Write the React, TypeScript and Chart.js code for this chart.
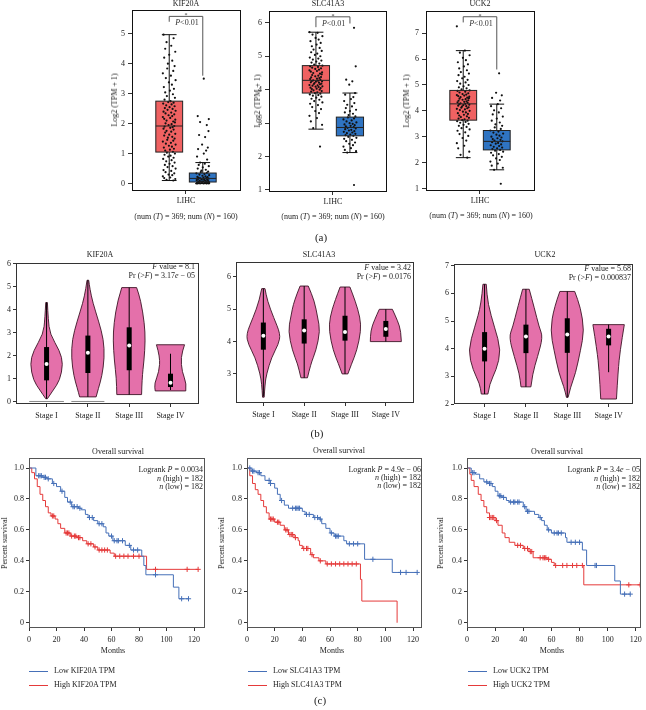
import React, { useEffect, useRef } from "react";
import { Chart, registerables } from "chart.js";

Chart.register(...registerables);

const SERIF = "'Liberation Serif', 'DejaVu Serif', serif";

// ================= (a) expression box plots =================
const boxGenes = ["KIF20A", "SLC41A3", "UCK2"];
const boxTickLabel = "LIHC";
const boxYTicks = [[0, 1, 2, 3, 4, 5], [1, 2, 3, 4, 5, 6], [1, 2, 3, 4, 5, 6, 7]];
const boxYRanges = [[-0.25, 5.8], [0.94, 6.36], [0.9, 7.87]];
const boxXRanges = [[-1.61, 1.64], [-1.88, 1.59], [-1.61, 1.64]];
const tumorPosition = -0.5;
const normalPosition = 0.5;
// [lower whisker, Q1, median, Q3, upper whisker]
const kif20aTumorStats = [0.1, 1.05, 1.92, 2.75, 4.97];
const kif20aNormalStats = [0.0, 0.05, 0.17, 0.35, 0.7];
const slc41a3TumorStats = [2.82, 3.9, 4.28, 4.72, 5.72];
const slc41a3NormalStats = [2.12, 2.62, 2.87, 3.18, 3.9];
const uck2TumorStats = [2.19, 3.64, 4.27, 4.79, 6.33];
const uck2NormalStats = [1.72, 2.49, 2.82, 3.24, 4.26];

const kif20aTumorPoints = [
  0.1, 0.12, 0.15, 0.18, 0.2, 0.24, 0.28, 0.3, 0.34, 0.38, 0.42, 0.45, 0.5, 0.55, 0.58, 0.62, 0.66, 0.7, 0.74, 0.78, 0.82, 0.86, 0.9, 0.93, 0.96, 1.0, 1.03,
  1.06, 1.1, 1.13, 1.16, 1.2, 1.23, 1.26, 1.3, 1.33, 1.36, 1.4, 1.43, 1.46, 1.5, 1.53, 1.56, 1.6, 1.63, 1.66, 1.7, 1.73, 1.76, 1.8, 1.83, 1.86, 1.88, 1.9, 1.92,
  1.95, 1.98, 2.01, 2.04, 2.07, 2.1, 2.13, 2.16, 2.19, 2.22, 2.25, 2.28, 2.31, 2.34, 2.37, 2.4, 2.43, 2.46, 2.49, 2.52, 2.55, 2.58, 2.61, 2.64, 2.67, 2.7, 2.72, 2.75,
  2.8, 2.86, 2.92, 2.98, 3.04, 3.1, 3.16, 3.22, 3.3, 3.38, 3.45, 3.52, 3.6, 3.68, 3.76, 3.84, 3.92, 4.0, 4.1, 4.2, 4.3, 4.4, 4.5, 4.6, 4.72, 4.85, 4.97,
];
const kif20aNormalPoints = [
  0, 0, 0, 0, 0, 0, 0.01, 0.01, 0.02, 0.02, 0.03, 0.03, 0.04, 0.05, 0.05, 0.06, 0.07, 0.08, 0.09, 0.1, 0.11, 0.12, 0.13, 0.14, 0.15, 0.16, 0.17, 0.18, 0.19, 0.2,
  0.21, 0.22, 0.24, 0.26, 0.28, 0.3, 0.32, 0.34, 0.36, 0.38, 0.4, 0.43, 0.46, 0.5, 0.54, 0.58, 0.62, 0.66, 0.7, 0.8, 0.9, 1.0, 1.1, 1.15, 1.2, 1.3, 1.55, 1.62, 1.75,
  1.95, 2.05, 2.15, 2.25, 3.5,
];
const slc41a3TumorPoints = [
  2.3, 2.85, 2.95, 3.05, 3.15, 3.22, 3.3, 3.36, 3.42, 3.48, 3.54, 3.58, 3.62, 3.66, 3.7, 3.73, 3.76, 3.79, 3.82, 3.84, 3.86, 3.88, 3.9,
  3.92, 3.94, 3.96, 3.98, 4.0, 4.02, 4.03, 4.05, 4.06, 4.08, 4.09, 4.1, 4.12, 4.13, 4.14, 4.16, 4.17, 4.18, 4.2, 4.21, 4.22, 4.24, 4.25, 4.26, 4.27, 4.28,
  4.3, 4.32, 4.33, 4.35, 4.37, 4.38, 4.4, 4.42, 4.44, 4.46, 4.48, 4.5, 4.52, 4.54, 4.56, 4.58, 4.6, 4.62, 4.64, 4.66, 4.68, 4.7, 4.72,
  4.75, 4.78, 4.81, 4.84, 4.87, 4.9, 4.93, 4.96, 5.0, 5.04, 5.08, 5.12, 5.16, 5.2, 5.25, 5.3, 5.35, 5.4, 5.45, 5.5, 5.55, 5.6, 5.65, 5.7, 5.72,
];
const slc41a3NormalPoints = [
  1.15, 2.12, 2.16, 2.2, 2.25, 2.3, 2.34, 2.38, 2.42, 2.46, 2.5, 2.53, 2.56, 2.59, 2.62, 2.64, 2.66, 2.68, 2.7, 2.72, 2.74, 2.76, 2.78, 2.8, 2.82, 2.84, 2.86, 2.88,
  2.9, 2.92, 2.94, 2.96, 2.98, 3.0, 3.02, 3.05, 3.08, 3.11, 3.14, 3.17, 3.2, 3.24, 3.28, 3.32, 3.36, 3.4, 3.45, 3.5, 3.55, 3.6, 3.66, 3.72, 3.78, 3.85, 3.9, 4.15,
  4.25, 4.3, 4.7, 5.85,
];
const uck2TumorPoints = [
  2.19, 2.3, 2.42, 2.55, 2.65, 2.75, 2.85, 2.95, 3.03, 3.1, 3.17, 3.23, 3.28, 3.33, 3.38, 3.42, 3.46, 3.5, 3.54, 3.57, 3.6, 3.62, 3.64,
  3.67, 3.7, 3.73, 3.76, 3.79, 3.82, 3.85, 3.88, 3.91, 3.94, 3.97, 4.0, 4.03, 4.06, 4.08, 4.1, 4.12, 4.14, 4.16, 4.18, 4.2, 4.22, 4.24, 4.26, 4.27,
  4.29, 4.31, 4.33, 4.35, 4.37, 4.39, 4.41, 4.43, 4.45, 4.47, 4.49, 4.51, 4.53, 4.55, 4.57, 4.59, 4.61, 4.63, 4.65, 4.68, 4.71, 4.74, 4.77, 4.79,
  4.83, 4.87, 4.91, 4.95, 5.0, 5.05, 5.1, 5.15, 5.2, 5.26, 5.32, 5.38, 5.44, 5.5, 5.57, 5.64, 5.72, 5.8, 5.88, 5.96, 6.05, 6.15, 6.25, 6.33, 7.27,
];
const uck2NormalPoints = [
  1.18, 1.72, 1.8, 1.88, 1.96, 2.04, 2.1, 2.16, 2.22, 2.28, 2.33, 2.38, 2.42, 2.46, 2.49, 2.52, 2.55, 2.58, 2.61, 2.64, 2.67, 2.7, 2.73, 2.76, 2.79, 2.82, 2.85,
  2.88, 2.91, 2.94, 2.97, 3.0, 3.04, 3.08, 3.12, 3.16, 3.2, 3.24, 3.3, 3.36, 3.42, 3.48, 3.55, 3.62, 3.7, 3.78, 3.86, 3.94, 4.02, 4.1, 4.18, 4.26, 4.4, 4.5, 4.6,
  4.7, 5.45,
];
const jitterOffsets = [0.12, -0.08, 0.18, -0.15, 0.03, -0.19, 0.09, -0.02, 0.15, -0.11, 0.06, -0.17, 0.19, -0.05, 0.1, -0.13, 0.01, 0.16, -0.09, 0.07, -0.18, 0.13, -0.03, 0.04, -0.14, 0.17, -0.07, 0.11, -0.12, 0.02, 0.14, -0.16, 0.08, -0.01, 0.19, -0.1, 0.05, -0.19, 0.12, -0.06, 0.16, -0.04, 0.09, -0.15, 0.0, 0.18, -0.12, 0.06, -0.08, 0.13, -0.17, 0.03, 0.1, -0.14, 0.15, -0.02, 0.07, -0.11, 0.17];
const bracketTops = [5.58, 6.18, 7.64];
const bracketLeftEnds = [5.4, 5.87, 7.42];
const bracketRightEnds = [3.6, 5.98, 5.6];
const sampleCounts = ["369", "160"];

// ================= (b) stage violin plots =================
const stageLabels = ["Stage I", "Stage II", "Stage III", "Stage IV"];
const violinYTicks = [[0, 1, 2, 3, 4, 5, 6], [3, 4, 5, 6], [2, 3, 4, 5, 6, 7]];
const violinYRanges = [[-0.11, 6.04], [2.1, 6.47], [2.0, 7.07]];
const violinXRanges = [[-0.74, 3.69], [-0.67, 3.69], [-0.74, 3.59]];
// profile: [value, half width] from bottom to top
const kif20aViolinProfiles = [
  [[0.12, 0.02], [0.49, 0.16], [0.92, 0.32], [1.64, 0.4], [2.2, 0.32], [2.94, 0.08], [3.6, 0.04], [4.31, 0.02]],
  [[0.2, 0.2], [0.6, 0.26], [1.1, 0.34], [1.9, 0.4], [2.7, 0.38], [3.5, 0.26], [4.3, 0.12], [4.9, 0.05], [5.28, 0.02]],
  [[0.3, 0.3], [1.0, 0.31], [1.8, 0.36], [2.65, 0.39], [3.4, 0.37], [4.4, 0.28], [4.96, 0.18]],
  [[0.46, 0.37], [0.78, 0.39], [1.28, 0.28], [1.93, 0.25], [2.47, 0.34]],
];
const slc41a3ViolinProfiles = [
  [[2.28, 0.02], [2.69, 0.04], [3.0, 0.08], [3.51, 0.2], [3.92, 0.37], [4.23, 0.42], [4.75, 0.25], [5.26, 0.1], [5.64, 0.04]],
  [[2.88, 0.08], [3.31, 0.16], [3.72, 0.29], [4.33, 0.39], [4.75, 0.33], [5.26, 0.25], [5.72, 0.1]],
  [[3.0, 0.07], [3.31, 0.16], [3.72, 0.29], [4.33, 0.39], [4.75, 0.37], [5.26, 0.25], [5.69, 0.12]],
  [[4.0, 0.38], [4.33, 0.37], [4.64, 0.29], [5.0, 0.16]],
];
const uck2ViolinProfiles = [
  [[2.36, 0.08], [2.74, 0.12], [3.22, 0.28], [3.94, 0.4], [4.78, 0.24], [5.61, 0.08], [6.33, 0.04]],
  [[2.62, 0.12], [3.1, 0.16], [3.7, 0.28], [4.42, 0.41], [4.78, 0.32], [5.49, 0.2], [6.15, 0.08]],
  [[2.24, 0.02], [2.62, 0.08], [3.1, 0.2], [3.94, 0.32], [4.66, 0.41], [5.49, 0.32], [6.07, 0.18]],
  [[2.18, 0.19], [3.22, 0.23], [3.94, 0.28], [4.87, 0.38]],
];
// [lower, Q1, median, Q3, upper]
const kif20aStageStats = [[0.12, 0.92, 1.63, 2.37, 4.31], [0.2, 1.24, 2.12, 2.87, 5.28], [0.3, 1.36, 2.44, 3.23, 4.96], [0.5, 0.63, 0.82, 1.21, 2.08]];
const slc41a3StageStats = [[2.3, 3.75, 4.18, 4.59, 5.64], [2.88, 3.94, 4.34, 4.69, 5.72], [3.0, 4.03, 4.3, 4.8, 5.69], [4.0, 4.15, 4.39, 4.64, 5.0]];
const uck2StageStats = [[2.36, 3.54, 4.0, 4.6, 6.33], [2.62, 3.84, 4.44, 4.87, 6.15], [2.24, 3.85, 4.51, 5.1, 6.07], [3.15, 4.12, 4.44, 4.72, 4.87]];
const kif20aZeroWidths = [0.42, 0.4, 0, 0];
const fValues = ["8.1", "3.42", "5.68"];
const prMantissas = ["3.17", "0.0176", "0.000837"];
const prExponents = ["05", "", ""];

// ================= (c) Kaplan-Meier curves =================
const kmYTicks = [0, 0.2, 0.4, 0.6, 0.8, 1.0];
const kmXTicks = [0, 20, 40, 60, 80, 100, 120];
const kmXMax = [128, 126.5, 123.5];
const kmYRange = [-0.034, 1.066];
const logrankP = ["0.0034", "4.9e-06", "3.4e-05"];
const groupSizes = ["182", "182"];

const kif20aLowTimes = [0, 5, 10, 13, 17, 20, 23, 26, 28, 31, 36, 38, 41, 43, 47, 50, 54, 56, 58, 61, 70, 74, 82, 83.5, 85, 105, 109, 116];
const kif20aLowSurv = [1, 0.95, 0.94, 0.93, 0.9, 0.88, 0.85, 0.81, 0.78, 0.75, 0.74, 0.73, 0.7, 0.68, 0.66, 0.64, 0.62, 0.58, 0.56, 0.53, 0.5, 0.47, 0.43, 0.37, 0.31, 0.23, 0.155, 0.155];
const kif20aLowCensor = [7, 8, 9, 11, 12, 14, 18, 24, 30, 32, 33, 35, 37, 44, 46, 51, 53, 60, 62, 64, 65, 68, 73, 76, 79, 92, 111, 116];
const kif20aHighTimes = [0, 2, 4, 6, 8, 10, 12, 14, 16, 19, 21, 23, 26, 30, 35, 39, 42, 47, 50, 59, 62, 85.5, 123];
const kif20aHighSurv = [1, 0.97, 0.93, 0.88, 0.83, 0.79, 0.75, 0.71, 0.69, 0.67, 0.64, 0.61, 0.58, 0.56, 0.55, 0.53, 0.51, 0.49, 0.47, 0.45, 0.43, 0.345, 0.345];
const kif20aHighCensor = [17, 18, 27, 28, 29, 31, 33, 34, 36, 37, 43, 45, 48, 51, 53, 55, 57, 63, 66, 69, 72, 76, 80, 92, 115, 123];

const slc41a3LowTimes = [0, 3, 7, 10, 13, 17, 20, 22, 24, 27, 30, 40, 42, 48, 52, 54, 57, 60, 63, 70, 72, 85, 105, 123];
const slc41a3LowSurv = [1, 0.98, 0.97, 0.95, 0.92, 0.9, 0.87, 0.83, 0.79, 0.76, 0.74, 0.72, 0.7, 0.68, 0.67, 0.64, 0.61, 0.58, 0.56, 0.53, 0.51, 0.41, 0.325, 0.325];
const slc41a3LowCensor = [2, 4, 5, 8, 9, 16, 17, 25, 33, 35, 36, 37, 38, 43, 45, 49, 51, 53, 61, 64, 65, 66, 74, 77, 80, 91, 111, 115, 123];
const slc41a3HighTimes = [0, 2, 4, 6, 8, 10, 12, 14, 16, 20, 24, 27, 30, 34, 37, 38, 40, 46, 48, 52, 57, 82, 83, 108.5];
const slc41a3HighSurv = [1, 0.95, 0.9, 0.86, 0.83, 0.79, 0.75, 0.71, 0.67, 0.65, 0.63, 0.6, 0.57, 0.55, 0.53, 0.5, 0.48, 0.44, 0.42, 0.4, 0.38, 0.28, 0.14, 0];
const slc41a3HighCensor = [17, 18, 19, 22, 23, 28, 29, 31, 32, 33, 35, 41, 43, 44, 47, 53, 58, 61, 64, 67, 70, 73, 76, 79];

const uck2LowTimes = [0, 3, 6, 9, 12, 15, 18, 20, 22, 25, 28, 30, 40, 42, 48, 51, 53, 55, 57, 60, 70, 71, 82, 85, 105, 109, 116];
const uck2LowSurv = [1, 0.97, 0.96, 0.93, 0.91, 0.9, 0.88, 0.85, 0.82, 0.81, 0.79, 0.78, 0.75, 0.72, 0.7, 0.68, 0.66, 0.63, 0.6, 0.58, 0.55, 0.52, 0.47, 0.37, 0.27, 0.185, 0.185];
const uck2LowCensor = [4, 5, 14, 16, 17, 23, 24, 26, 31, 33, 34, 36, 37, 41, 43, 44, 52, 58, 62, 64, 65, 67, 74, 77, 80, 91, 92, 112, 116];
const uck2HighTimes = [0, 2, 3, 5, 8, 10, 12, 14, 16, 20, 22, 25, 27, 30, 34, 40, 44, 47, 57, 60, 62, 83, 123];
const uck2HighSurv = [1, 0.96, 0.92, 0.88, 0.83, 0.79, 0.75, 0.71, 0.68, 0.66, 0.63, 0.58, 0.55, 0.52, 0.5, 0.48, 0.46, 0.42, 0.41, 0.39, 0.37, 0.245, 0.245];
const uck2HighCensor = [16, 17, 18, 19, 21, 36, 38, 41, 43, 45, 46, 52, 54, 55, 56, 58, 63, 68, 71, 75, 78, 82, 115, 123];

// ================= styling / layout =================
const TUMOR = "#F06262";
const NORMAL = "#2F74C2";
const VIOLIN = "#E470AA";
const KM_BLUE = "#4670B8";
const KM_RED = "#E53A3A";

type Frame = { l: number; t: number; r: number; b: number };
type Margin = { L: number; T: number; R: number; B: number };

const boxFrames: Frame[] = [
  { l: 132, t: 8, r: 241, b: 191 },
  { l: 269, t: 9, r: 387, b: 192 },
  { l: 426, t: 9, r: 535, b: 191 },
];
const violinFrames: Frame[] = [
  { l: 16, t: 262, r: 199, b: 404 },
  { l: 236, t: 261, r: 414, b: 403 },
  { l: 454, t: 263, r: 633, b: 404 },
];
const kmFrames: Frame[] = [
  { l: 29, t: 457, r: 206, b: 628 },
  { l: 247, t: 457, r: 423, b: 628 },
  { l: 467, t: 457, r: 642, b: 628 },
];
const boxMargin: Margin = { L: 20, T: 6, R: 4, B: 16 };
const violinMargin: Margin = { L: 16, T: 6, R: 4, B: 18 };
const kmMargin: Margin = { L: 22, T: 6, R: 4, B: 16 };

function axis(min: number, max: number, ticks: number[], fmt: (v: number) => string, tickLen: number, pad: number) {
  return {
    type: "linear",
    min,
    max,
    afterBuildTicks: (s: any) => {
      s.ticks = ticks.map((v) => ({ value: v }));
    },
    ticks: {
      callback: (v: any) => fmt(Number(v)),
      autoSkip: false,
      maxRotation: 0,
      minRotation: 0,
      padding: pad,
      color: "#222",
      font: { family: SERIF, size: 8 },
    },
    grid: { display: true, drawOnChartArea: false, drawTicks: true, tickLength: tickLen, color: "#333", lineWidth: 1 },
    border: { display: false },
  };
}

function baseOptions(m: Margin, x: any, y: any) {
  return {
    responsive: false,
    animation: false,
    events: [],
    layout: { padding: { top: m.T, right: m.R, left: 0, bottom: 0 } },
    plugins: { legend: { display: false }, tooltip: { enabled: false }, title: { display: false } },
    scales: {
      x: { ...x, afterFit: (s: any) => { s.height = m.B; } },
      y: { ...y, afterFit: (s: any) => { s.width = m.L; } },
    },
  };
}

function framePlugin(color: string) {
  return {
    id: "frame",
    afterDraw(chart: any) {
      const { ctx, chartArea: a } = chart;
      ctx.save();
      ctx.strokeStyle = color;
      ctx.lineWidth = 1;
      ctx.strokeRect(Math.round(a.left) + 0.5, Math.round(a.top) + 0.5, Math.round(a.right - a.left) - 1, Math.round(a.bottom - a.top) - 1);
      ctx.restore();
    },
  };
}

function line(ctx: any, x1: number, y1: number, x2: number, y2: number) {
  ctx.beginPath();
  ctx.moveTo(x1, y1);
  ctx.lineTo(x2, y2);
  ctx.stroke();
}

// ---------- box chart ----------
const tumorStatsAll = [kif20aTumorStats, slc41a3TumorStats, uck2TumorStats];
const normalStatsAll = [kif20aNormalStats, slc41a3NormalStats, uck2NormalStats];
const tumorPointsAll = [kif20aTumorPoints, slc41a3TumorPoints, uck2TumorPoints];
const normalPointsAll = [kif20aNormalPoints, slc41a3NormalPoints, uck2NormalPoints];

function buildBoxChart(i: number) {
  const groups = [
    { pos: tumorPosition, stats: tumorStatsAll[i], points: tumorPointsAll[i], color: TUMOR },
    { pos: normalPosition, stats: normalStatsAll[i], points: normalPointsAll[i], color: NORMAL },
  ];
  const boxWidth = 0.8;
  const geom = (chart: any, g: any) => {
    const { x, y } = chart.scales;
    const xc = x.getPixelForValue(g.pos);
    const hw = x.getPixelForValue(g.pos + boxWidth / 2) - xc;
    const [lo, q1, med, q3, hi] = g.stats.map((v: number) => y.getPixelForValue(v));
    return { xc, hw, lo, q1, med, q3, hi };
  };
  const plugin = {
    id: "boxes",
    beforeDatasetsDraw(chart: any) {
      const ctx = chart.ctx;
      ctx.save();
      for (const g of groups) {
        const { xc, hw, lo, q1, q3, hi } = geom(chart, g);
        ctx.strokeStyle = "#111";
        ctx.lineWidth = 1;
        line(ctx, xc, hi, xc, q3);
        line(ctx, xc, q1, xc, lo);
        line(ctx, xc - hw * 0.55, hi, xc + hw * 0.55, hi);
        line(ctx, xc - hw * 0.55, lo, xc + hw * 0.55, lo);
        ctx.fillStyle = g.color;
        ctx.fillRect(xc - hw, q3, hw * 2, q1 - q3);
      }
      ctx.restore();
    },
    afterDatasetsDraw(chart: any) {
      const ctx = chart.ctx;
      const { x, y } = chart.scales;
      ctx.save();
      for (const g of groups) {
        const { xc, hw, med, q1, q3 } = geom(chart, g);
        ctx.strokeStyle = "#222";
        ctx.lineWidth = 1;
        ctx.strokeRect(xc - hw, q3, hw * 2, q1 - q3);
        line(ctx, xc - hw, med, xc + hw, med);
      }
      // significance bracket
      const xl = x.getPixelForValue(tumorPosition);
      const xr = x.getPixelForValue(normalPosition);
      const yt = y.getPixelForValue(bracketTops[i]);
      ctx.strokeStyle = "#555";
      ctx.beginPath();
      ctx.moveTo(xl, y.getPixelForValue(bracketLeftEnds[i]));
      ctx.lineTo(xl, yt);
      ctx.lineTo(xr, yt);
      ctx.lineTo(xr, y.getPixelForValue(bracketRightEnds[i]));
      ctx.stroke();
      ctx.fillStyle = "#333";
      ctx.font = `6px ${SERIF}`;
      ctx.textAlign = "center";
      ctx.textBaseline = "bottom";
      ctx.fillText("*", (xl + xr) / 2, yt + 2.5);
      ctx.textAlign = "left";
      ctx.textBaseline = "middle";
      ctx.font = `italic 8px ${SERIF}`;
      const px = xl + 6;
      ctx.fillText("P", px, yt + 7);
      const pw = ctx.measureText("P").width;
      ctx.font = `8px ${SERIF}`;
      ctx.fillText("<0.01", px + pw, yt + 7);
      ctx.restore();
    },
  };
  const datasets = groups.map((g) => ({
    data: g.points.map((v: number, k: number) => ({ x: g.pos + jitterOffsets[k % jitterOffsets.length], y: v })),
    pointRadius: 1.1,
    pointBackgroundColor: "#111",
    pointBorderWidth: 0,
    showLine: false,
  }));
  const xAxis = axis(boxXRanges[i][0], boxXRanges[i][1], [0], () => boxTickLabel, 3, 2);
  const yAxis = axis(boxYRanges[i][0], boxYRanges[i][1], boxYTicks[i], (v) => String(v), 4, 3);
  return {
    type: "scatter",
    data: { datasets },
    options: baseOptions(boxMargin, xAxis, yAxis),
    plugins: [plugin, framePlugin("#111")],
  };
}

// ---------- violin chart ----------
const violinProfilesAll = [kif20aViolinProfiles, slc41a3ViolinProfiles, uck2ViolinProfiles];
const stageStatsAll = [kif20aStageStats, slc41a3StageStats, uck2StageStats];
const zeroWidthsAll = [kif20aZeroWidths, [0, 0, 0, 0], [0, 0, 0, 0]];

function smoothPath(ctx: any, pts: number[][], start: boolean) {
  if (start) ctx.moveTo(pts[0][0], pts[0][1]);
  else ctx.lineTo(pts[0][0], pts[0][1]);
  for (let k = 1; k < pts.length - 1; k++) {
    const mx = (pts[k][0] + pts[k + 1][0]) / 2;
    const my = (pts[k][1] + pts[k + 1][1]) / 2;
    ctx.quadraticCurveTo(pts[k][0], pts[k][1], mx, my);
  }
  const last = pts[pts.length - 1];
  ctx.lineTo(last[0], last[1]);
}

function buildViolinChart(i: number) {
  const profiles = violinProfilesAll[i];
  const stats = stageStatsAll[i];
  const zeros = zeroWidthsAll[i];
  const plugin = {
    id: "violins",
    beforeDatasetsDraw(chart: any) {
      const { ctx } = chart;
      const { x, y } = chart.scales;
      ctx.save();
      profiles.forEach((prof: number[][], k: number) => {
        const xc = x.getPixelForValue(k);
        if (zeros[k] > 0) {
          ctx.strokeStyle = "#8a8a8a";
          ctx.lineWidth = 1;
          const y0 = y.getPixelForValue(0);
          line(ctx, x.getPixelForValue(k - zeros[k]), y0, x.getPixelForValue(k + zeros[k]), y0);
        }
        const right = prof.map(([v, w]) => [x.getPixelForValue(k + w), y.getPixelForValue(v)]);
        const left = prof.map(([v, w]) => [x.getPixelForValue(k - w), y.getPixelForValue(v)]).reverse();
        ctx.beginPath();
        smoothPath(ctx, right, true);
        smoothPath(ctx, left, false);
        ctx.closePath();
        ctx.fillStyle = VIOLIN;
        ctx.fill();
        ctx.strokeStyle = "#3d1426";
        ctx.lineWidth = 0.9;
        ctx.stroke();
        const [lo, q1, , q3, hi] = stats[k].map((v: number) => y.getPixelForValue(v));
        ctx.strokeStyle = "#000";
        ctx.lineWidth = 1;
        line(ctx, xc, lo, xc, hi);
        ctx.fillStyle = "#000";
        ctx.fillRect(xc - 2.5, q3, 5, q1 - q3);
      });
      ctx.restore();
    },
  };
  const datasets = [
    {
      data: stats.map((s: number[], k: number) => ({ x: k, y: s[2] })),
      pointRadius: 2,
      pointBackgroundColor: "#fff",
      pointBorderWidth: 0,
      showLine: false,
    },
  ];
  const xAxis = axis(violinXRanges[i][0], violinXRanges[i][1], [0, 1, 2, 3], (v) => stageLabels[Math.round(v)], 3, 4);
  const yAxis = axis(violinYRanges[i][0], violinYRanges[i][1], violinYTicks[i], (v) => String(v), 3, 2);
  return {
    type: "scatter",
    data: { datasets },
    options: baseOptions(violinMargin, xAxis, yAxis),
    plugins: [plugin, framePlugin("#333")],
  };
}

// ---------- KM chart ----------
const lowTimesAll = [kif20aLowTimes, slc41a3LowTimes, uck2LowTimes];
const lowSurvAll = [kif20aLowSurv, slc41a3LowSurv, uck2LowSurv];
const lowCensorAll = [kif20aLowCensor, slc41a3LowCensor, uck2LowCensor];
const highTimesAll = [kif20aHighTimes, slc41a3HighTimes, uck2HighTimes];
const highSurvAll = [kif20aHighSurv, slc41a3HighSurv, uck2HighSurv];
const highCensorAll = [kif20aHighCensor, slc41a3HighCensor, uck2HighCensor];

function survAt(times: number[], surv: number[], t: number) {
  let v = surv[0];
  for (let k = 0; k < times.length; k++) if (times[k] <= t) v = surv[k];
  return v;
}

function buildKmChart(i: number) {
  const curve = (times: number[], surv: number[], color: string) => ({
    data: times.map((t, k) => ({ x: t, y: surv[k] })),
    borderColor: color,
    borderWidth: 1,
    stepped: "before",
    pointRadius: 0,
    fill: false,
  });
  const censor = (cens: number[], times: number[], surv: number[], color: string) => ({
    data: cens.map((t) => ({ x: t, y: survAt(times, surv, t) })),
    showLine: false,
    pointStyle: "cross",
    pointRadius: 2.6,
    pointBorderWidth: 1,
    pointBorderColor: color,
    borderColor: color,
  });
  const datasets = [
    curve(lowTimesAll[i], lowSurvAll[i], KM_BLUE),
    censor(lowCensorAll[i], lowTimesAll[i], lowSurvAll[i], KM_BLUE),
    curve(highTimesAll[i], highSurvAll[i], KM_RED),
    censor(highCensorAll[i], highTimesAll[i], highSurvAll[i], KM_RED),
  ];
  const xAxis = axis(0, kmXMax[i], kmXTicks, (v) => String(v), 3, 4);
  const yAxis = axis(kmYRange[0], kmYRange[1], kmYTicks, (v) => (v === 0 ? "0" : v.toFixed(1)), 3, 2);
  return {
    type: "line",
    data: { datasets },
    options: baseOptions(kmMargin, xAxis, yAxis),
    plugins: [framePlugin("#555")],
  };
}

// ---------- React ----------
function ChartCanvas({ frame, margin, build }: { frame: Frame; margin: Margin; build: () => any }) {
  const ref = useRef<HTMLCanvasElement | null>(null);
  const left = frame.l - margin.L;
  const top = frame.t - margin.T;
  const width = frame.r - frame.l + margin.L + margin.R;
  const height = frame.b - frame.t + margin.T + margin.B;
  useEffect(() => {
    const chart = new Chart(ref.current as HTMLCanvasElement, build());
    return () => chart.destroy();
  }, []);
  return <canvas ref={ref} width={width} height={height} style={{ position: "absolute", left, top, width, height }} />;
}

function Txt({ x, y, children, align = "center", size = 8, rotate = false }: any) {
  const tx = align === "center" ? "-50%" : align === "right" ? "-100%" : "0";
  return (
    <div
      style={{
        position: "absolute",
        left: x,
        top: y,
        transform: `translate(${tx}, -50%)${rotate ? " rotate(-90deg)" : ""}`,
        willChange: "transform",
        whiteSpace: "nowrap",
        fontSize: size,
        lineHeight: 1,
        fontFamily: SERIF,
        color: "#222",
      }}
    >
      {children}
    </div>
  );
}

const boxTitlePos = [[186, 4], [328, 4], [480, 4]];
const boxYTitlePos = [[115, 100], [258, 101], [407, 101]];
const boxNumPos = [[186, 217], [333, 217], [481, 216]];
const violinTitlePos = [[100, 255], [319, 255], [545, 255]];
const violinAnnotPos = [[195, 266.5, 275.5], [410.5, 268, 277], [631, 269.3, 277.5]];
const kmTitlePos = [[117.5, 452], [339, 451], [557, 452]];
const kmAnnotPos = [[203, 470, 478.5, 487], [421, 470, 478, 486], [640, 470, 478.5, 487]];
const kmYTitlePos = [[5, 543], [222, 543], [441, 543]];
const kmXTitlePos = [[112.5, 651], [331.5, 651], [551.5, 651]];
const kmLegendPos = [[29, 54], [248, 273], [468, 493]];
const kmLegendY = [671, 685];

export default function App() {
  return (
    <div style={{ position: "absolute", left: 0, top: 0, width: 646, height: 710, background: "#fff", overflow: "hidden", fontFamily: SERIF }}>
      {boxGenes.map((g, i) => (
        <React.Fragment key={"a" + i}>
          <ChartCanvas frame={boxFrames[i]} margin={boxMargin} build={() => buildBoxChart(i)} />
          <Txt x={boxTitlePos[i][0]} y={boxTitlePos[i][1]}>{g}</Txt>
          <Txt x={boxYTitlePos[i][0]} y={boxYTitlePos[i][1]} rotate>Log2 (TPM + 1)</Txt>
          <Txt x={boxNumPos[i][0]} y={boxNumPos[i][1]}>
            {"(num ("}<i>T</i>{`) = ${sampleCounts[0]}; num (`}<i>N</i>{`) = ${sampleCounts[1]})`}
          </Txt>
        </React.Fragment>
      ))}
      <Txt x={321} y={237} size={11}>(a)</Txt>

      {boxGenes.map((g, i) => (
        <React.Fragment key={"b" + i}>
          <ChartCanvas frame={violinFrames[i]} margin={violinMargin} build={() => buildViolinChart(i)} />
          <Txt x={violinTitlePos[i][0]} y={violinTitlePos[i][1]}>{g}</Txt>
          <Txt x={violinAnnotPos[i][0]} y={violinAnnotPos[i][1]} align="right">
            <i>F</i>{` value = ${fValues[i]}`}
          </Txt>
          <Txt x={violinAnnotPos[i][0]} y={violinAnnotPos[i][2]} align="right">
            {"Pr (>"}<i>F</i>{`) = ${prMantissas[i]}`}
            {prExponents[i] ? <><i>e</i>{` − ${prExponents[i]}`}</> : null}
          </Txt>
        </React.Fragment>
      ))}
      <Txt x={317} y={433} size={11}>(b)</Txt>

      {boxGenes.map((g, i) => {
        const parts = logrankP[i].split("e-");
        return (
          <React.Fragment key={"c" + i}>
            <ChartCanvas frame={kmFrames[i]} margin={kmMargin} build={() => buildKmChart(i)} />
            <Txt x={kmTitlePos[i][0]} y={kmTitlePos[i][1]}>Overall survival</Txt>
            <Txt x={kmAnnotPos[i][0]} y={kmAnnotPos[i][1]} align="right">
              {"Logrank "}<i>P</i>{` = ${parts[0]}`}
              {parts.length > 1 ? <><i>e</i>{` − ${parts[1]}`}</> : null}
            </Txt>
            <Txt x={kmAnnotPos[i][0]} y={kmAnnotPos[i][2]} align="right">
              <i>n</i>{` (high) = ${groupSizes[0]}`}
            </Txt>
            <Txt x={kmAnnotPos[i][0]} y={kmAnnotPos[i][3]} align="right">
              <i>n</i>{` (low) = ${groupSizes[1]}`}
            </Txt>
            <Txt x={kmYTitlePos[i][0]} y={kmYTitlePos[i][1]} rotate>Percent survival</Txt>
            <Txt x={kmXTitlePos[i][0]} y={kmXTitlePos[i][1]}>Months</Txt>
            {["Low", "High"].map((lv, j) => (
              <React.Fragment key={lv}>
                <div style={{ position: "absolute", left: kmLegendPos[i][0], top: kmLegendY[j], width: 19, height: 0, borderTop: `1px solid ${j === 0 ? KM_BLUE : KM_RED}` }} />
                <Txt x={kmLegendPos[i][1]} y={kmLegendY[j]} align="left">{`${lv} ${g} TPM`}</Txt>
              </React.Fragment>
            ))}
          </React.Fragment>
        );
      })}
      <Txt x={320} y={700} size={11}>(c)</Txt>
    </div>
  );
}
